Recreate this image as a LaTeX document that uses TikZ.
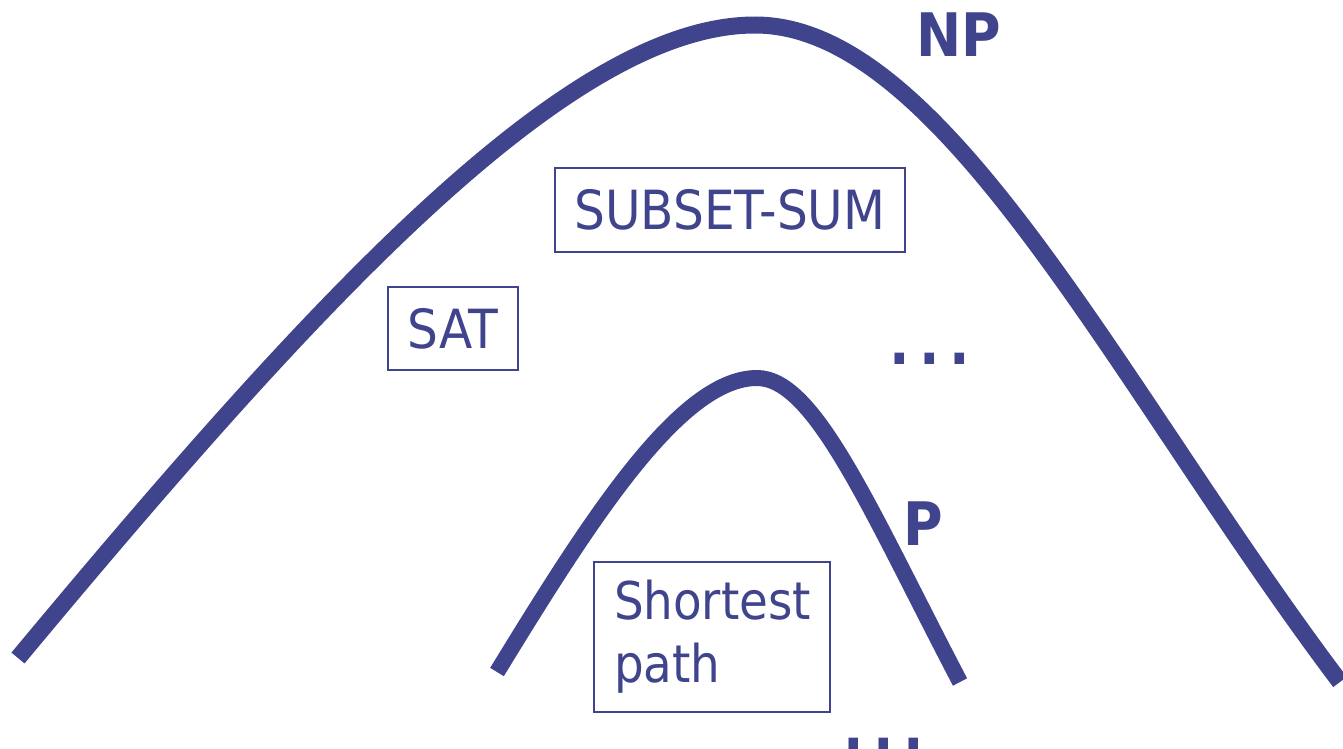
\documentclass[tikz,border=0pt]{standalone}
\usepackage{fontspec}
\setmainfont{DejaVu Sans Condensed}
\definecolor{npblue}{RGB}{64,68,140}
\tikzset{
  curve/.style={draw=npblue, line width=17pt},
  pcurve/.style={draw=npblue, line width=16pt},
  probbox/.style={draw=npblue, line width=2pt, text=npblue, inner sep=0pt, font=\fontsize{54}{63}\selectfont},
  setlabel/.style={text=npblue, inner sep=0pt, font=\fontsize{60}{60}\selectfont\bfseries},
  dots/.style={text=npblue, inner sep=0pt, font=\fontsize{60}{60}\selectfont\bfseries}
}
\begin{document}
\begin{tikzpicture}[x=1pt,y=-1pt]
\useasboundingbox (0,0) rectangle (1343,749);
% NP curve
\coordinate (npl) at (18,658);
\coordinate (npt) at (755,25);
\coordinate (npr) at (1340,682);
\draw[curve] (npl) .. controls (320,295) and (570,25) .. (npt)
  .. controls (945,25) and (1120,390) .. (npr);
% P curve
\coordinate (pl) at (497,672);
\coordinate (pt) at (757,378);
\coordinate (pr) at (960,682);
\draw[pcurve] (pl) .. controls (590,520) and (680,378) .. (pt)
  .. controls (815,378) and (870,510) .. (pr);
% boxes
\node[probbox, minimum width=350pt, minimum height=84pt] (ss) at (730,210) {SUBSET-SUM};
\node[probbox, minimum width=130pt, minimum height=83pt] (sat) at (453,328.5) {SAT};
\node[probbox, minimum width=236pt, minimum height=150pt, text width=196pt, align=left, font=\fontsize{52}{63}\selectfont] (sp) at (712,637) {Shortest\\path};
% labels
\node[setlabel, anchor=base west] (np) at (916,57) {NP};
\node[setlabel, anchor=base west] (p) at (903,545) {P};
\node[dots, anchor=base west] (d1) at (889,364) {.\kern9.5pt.\kern9.5pt.};
\node[dots, anchor=base west] (d2) at (843,749) {.\kern9.5pt.\kern9.5pt.};
\end{tikzpicture}
\end{document}
